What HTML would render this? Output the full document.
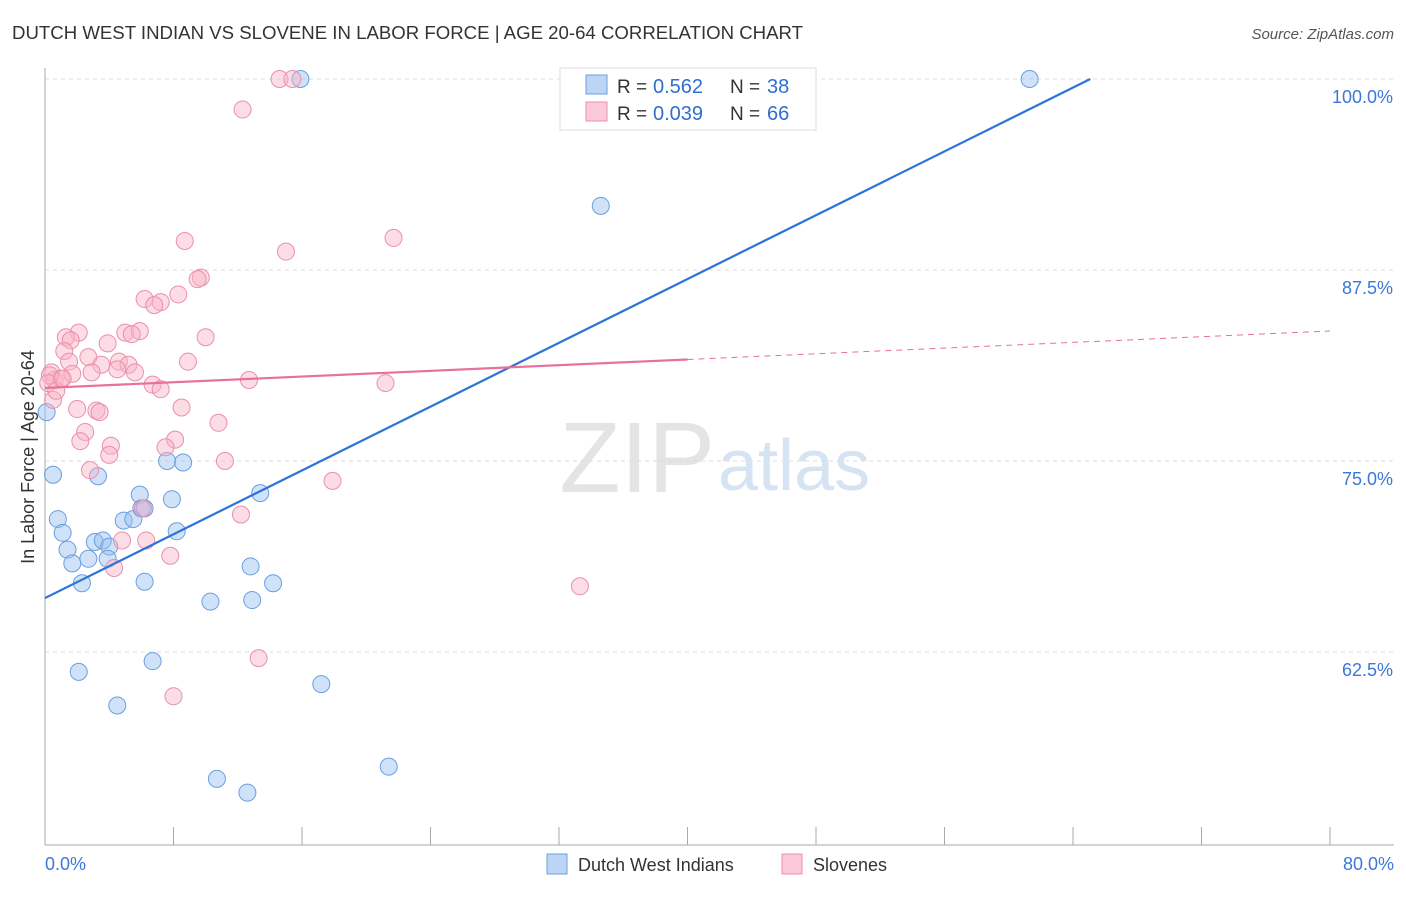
<!DOCTYPE html>
<html><head><meta charset="utf-8"><style>
body{margin:0;background:#fff;font-family:"Liberation Sans",sans-serif;}
svg text{font-family:"Liberation Sans",sans-serif;}
</style></head><body>
<svg id="c" width="1406" height="892" xmlns="http://www.w3.org/2000/svg">
<text x="12" y="39" font-size="18" fill="#333" textLength="791" lengthAdjust="spacingAndGlyphs">DUTCH WEST INDIAN VS SLOVENE IN LABOR FORCE | AGE 20-64 CORRELATION CHART</text>
<text x="1394" y="39" font-size="15" fill="#555" font-style="italic" text-anchor="end">Source: ZipAtlas.com</text>
<text x="715" y="492" font-size="100" fill="#e4e4e4" text-anchor="end" font-family="Liberation Serif">ZIP</text>
<text x="718" y="490" font-size="72" fill="#d5e3f3">atlas</text>
<g id="grid"></g><g id="axes"></g><g id="pts"></g><g id="lines"></g>
<text transform="translate(34,457) rotate(-90)" font-size="18" fill="#333" text-anchor="middle">In Labor Force | Age 20-64</text>
<g>
<rect x="560" y="68" width="256" height="62" fill="#fff" stroke="#ddd"/>
<rect x="586" y="75" width="21" height="19" fill="#bcd5f5" stroke="#6a9fe0"/>
<rect x="586" y="102" width="21" height="19" fill="#fbc9d8" stroke="#eb8fac"/>
<text x="617" y="93" font-size="19" fill="#333">R =</text>
<text x="653" y="93" font-size="20" fill="#2f6fd0">0.562</text>
<text x="730" y="93" font-size="19" fill="#333">N =</text>
<text x="767" y="93" font-size="20" fill="#2f6fd0">38</text>
<text x="617" y="120" font-size="19" fill="#333">R =</text>
<text x="653" y="120" font-size="20" fill="#2f6fd0">0.039</text>
<text x="730" y="120" font-size="19" fill="#333">N =</text>
<text x="767" y="120" font-size="20" fill="#2f6fd0">66</text>
</g>
<g>
<rect x="547" y="854" width="20" height="20" fill="#bcd5f5" stroke="#6a9fe0"/>
<text x="578" y="871" font-size="18" fill="#333">Dutch West Indians</text>
<rect x="782" y="854" width="20" height="20" fill="#fbc9d8" stroke="#eb8fac"/>
<text x="813" y="871" font-size="18" fill="#333">Slovenes</text>
</g>
</svg>
<script>
const yTicks=[62.5,75,87.5,100];
const yTickLabels=["62.5%","75.0%","87.5%","100.0%"];
const xTickVals=[0,8,16,24,32,40,48,56,64,72,80];
const blueX=[15.9,61.3,34.6,0.1,0.5,3.3,0.8,1.1,1.4,1.7,2.3,2.7,3.1,3.6,4.0,3.9,4.9,5.5,5.9,6.0,6.2,6.7,7.6,7.9,8.2,8.6,10.3,10.7,12.6,12.8,12.9,13.4,14.2,17.2,21.4,2.1,4.5,6.2];
const blueY=[100,100,91.7,78.2,74.1,74.0,71.2,70.3,69.2,68.3,67.0,68.6,69.7,69.8,69.4,68.6,71.1,71.2,72.8,71.9,67.1,61.9,75.0,72.5,70.4,74.9,65.8,54.2,53.3,68.1,65.9,72.9,67.0,60.4,55.0,61.2,59.0,71.9];
const pinkX=[14.6,15.4,12.3,8.7,15.0,21.7,9.7,9.5,8.3,7.2,6.2,6.8,10.0,5.0,5.9,5.4,3.9,2.1,1.3,1.6,1.2,2.7,1.5,3.5,4.6,5.2,4.5,5.6,0.4,0.6,1.0,1.7,2.9,6.7,7.2,8.9,12.7,21.2,0.5,2.0,3.2,3.4,8.5,10.8,2.5,2.2,4.1,4.0,8.1,7.5,11.2,2.8,17.9,6.1,12.2,6.3,4.8,4.3,7.8,33.3,13.3,8.0,0.3,0.2,0.7,1.1];
const pinkY=[100,100,98.0,89.4,88.7,89.6,87.0,86.9,85.9,85.4,85.6,85.2,83.1,83.4,83.5,83.3,82.7,83.4,83.1,82.9,82.2,81.8,81.5,81.3,81.5,81.3,81.0,80.8,80.8,80.3,80.4,80.7,80.8,80.0,79.7,81.5,80.3,80.1,79.0,78.4,78.3,78.2,78.5,77.5,76.9,76.3,76.0,75.4,76.4,75.9,75.0,74.4,73.7,71.9,71.5,69.8,69.8,68.0,68.8,66.8,62.1,59.6,80.6,80.1,79.6,80.4];
const blueFit=[66.03,0.522];const pinkFit=[79.78,0.0466];
const NS="http://www.w3.org/2000/svg";
const X0=45,X1=1330,YB=845;
const xs=v=>X0+(v/80)*(X1-X0);
const ys=v=>79+(100-v)/12.5*191;
function mk(t,a,p){const e=document.createElementNS(NS,t);for(const k in a)e.setAttribute(k,a[k]);document.getElementById(p).appendChild(e);return e;}
yTicks.forEach((v,i)=>{
 const l=mk('line',{x1:X0,x2:1394,y1:ys(v),y2:ys(v),stroke:'#ddd','stroke-dasharray':'4,4'},'grid');
 
 
 const t=mk('text',{x:1393,y:ys(v)+24,'font-size':18,fill:'#3b78d8','text-anchor':'end'},'grid');
 t.textContent=yTickLabels[i];
 
 
});
const ax=mk('line',{x1:X0,x2:X0,y1:68,y2:YB,stroke:'#aaa'},'axes');


const bx=mk('line',{x1:X0,x2:1394,y1:YB,y2:YB,stroke:'#aaa'},'axes');


xTickVals.forEach(v=>{const t=mk('line',{x1:xs(v),x2:xs(v),y1:827,y2:YB,stroke:'#aaa'},'axes');
 
 });
[[0,'0.0%','start',45],[80,'80.0%','end',1394]].forEach(a=>{const t=mk('text',{x:a[3],y:870,'font-size':18,fill:'#3b78d8','text-anchor':a[2]},'axes');t.textContent=a[1];
 
 });
blueX.forEach((v,i)=>{const c=mk('circle',{cx:xs(v),cy:ys(blueY[i]),r:8.5,fill:'rgba(150,190,240,0.45)',stroke:'#6a9fe0','stroke-width':1},'pts');
 
 });
pinkX.forEach((v,i)=>{const c=mk('circle',{cx:xs(v),cy:ys(pinkY[i]),r:8.5,fill:'rgba(248,180,200,0.45)',stroke:'#eb8fac','stroke-width':1},'pts');
 
 });
const bxEnd=(100-blueFit[0])/blueFit[1];
const bl=mk('line',{x1:xs(0),y1:ys(blueFit[0]),x2:xs(bxEnd),y2:ys(100),stroke:'#2c74d6','stroke-width':2.2},'lines');


const pl=mk('line',{x1:xs(0),y1:ys(pinkFit[0]),x2:xs(40),y2:ys(pinkFit[0]+40*pinkFit[1]),stroke:'#e8709a','stroke-width':2.2},'lines');


const pd=mk('line',{x1:xs(40),y1:ys(pinkFit[0]+40*pinkFit[1]),x2:xs(80),y2:ys(pinkFit[0]+80*pinkFit[1]),stroke:'#e8709a','stroke-width':1,'stroke-dasharray':'6,5'},'lines');


</script>
</body></html>
